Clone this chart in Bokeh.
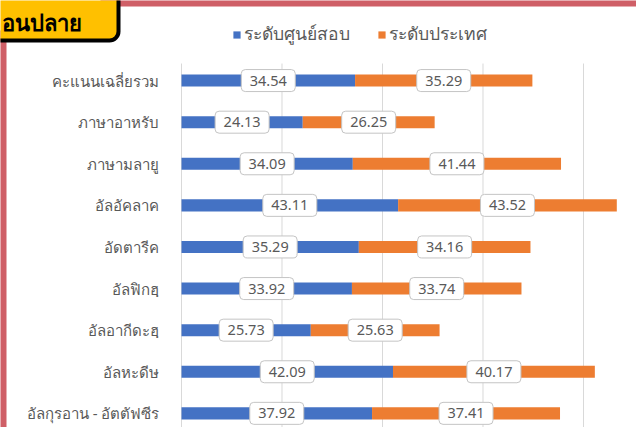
from bokeh.plotting import figure
from bokeh.models import (ColumnDataSource, Range1d, FixedTicker, Legend, LegendItem,
                          Label, BoxAnnotation, Rect)
from bokeh.core.properties import value
from bokeh.embed import file_html
from bokeh.resources import INLINE

categories = ["คะแนนเฉลี่ยรวม", "ภาษาอาหรับ", "ภาษามลายู", "อัลอัคลาค", "อัดตารีค",
              "อัลฟิกฮฺ", "อัลอากีดะฮฺ", "อัลหะดีษ", "อัลกุรอาน - อัตตัฟซีร"]
center_scores = [34.54, 24.13, 34.09, 43.11, 35.29, 33.92, 25.73, 42.09, 37.92]
nation_scores = [35.29, 26.25, 41.44, 43.52, 34.16, 33.74, 25.63, 40.17, 37.41]
series_names = ["ระดับศูนย์สอบ", "ระดับประเทศ"]
x_ticks = [0, 20, 40, 60, 80]
corner_text = "อนปลาย"

BLUE = "#4472C4"
ORANGE = "#ED7D31"
GRAY = "#595959"
RED = "#CF5F67"
FONT = "Noto Sans"

W, H = 636, 427
# visible data window (frame covers the whole canvas)
X0, X1 = -36.02, 90.55
Y_TOP, Y_BOT = -1.925, 8.34
PPX = W / (X1 - X0)
PPY = H / (Y_BOT - Y_TOP)


def dx(px):
    return X0 + px / PPX


def dy(py):
    return Y_TOP + py / PPY


idx = list(range(len(categories)))
label_x = []
label_y = []
label_txt = []
for i in idx:
    c = center_scores[i]
    n = nation_scores[i]
    label_x += [c / 2.0, c + n / 2.0]
    label_y += [i, i]
    label_txt += [f"{c:.2f}", f"{n:.2f}"]

src = ColumnDataSource(dict(idx=idx, center=center_scores, nation=nation_scores))
lsrc = ColumnDataSource(dict(x=label_x, y=label_y, t=label_txt))

p = figure(width=W, height=H, output_backend="svg", toolbar_location=None,
           x_range=Range1d(X0, X1), y_range=Range1d(Y_BOT, Y_TOP),
           x_axis_location=None, min_border_left=0, min_border_right=0,
           min_border_top=0, min_border_bottom=0, outline_line_color=None,
           background_fill_color="white", border_fill_color="white")
p.xgrid.visible = False
p.ygrid.visible = False

# vertical grid lines (start just above first category row)
grid_top = -0.41
p.segment(x0=x_ticks, x1=x_ticks, y0=[grid_top] * len(x_ticks), y1=[Y_BOT + 1] * len(x_ticks),
          line_color="#d9d9d9", line_width=1)

rs = p.hbar_stack(["center", "nation"], y="idx", height=0.29, color=[BLUE, ORANGE],
                  source=src, line_color=None)

rect_kw = {}
if "border_radius" in Rect.properties():
    rect_kw["border_radius"] = 4
p.rect(x="x", y="y", width=54, height=22, width_units="screen", height_units="screen",
       source=lsrc, fill_color="white", line_color="#c4c4c4", line_width=1, **rect_kw)
p.text(x="x", y="y", text="t", source=lsrc, text_align="center", text_baseline="middle",
       text_font=value(FONT), text_font_size="14.5px", text_color=GRAY)

ax = p.yaxis[0]
ax.fixed_location = 0
ax.ticker = FixedTicker(ticks=idx)
ax.major_label_overrides = {i: c for i, c in zip(idx, categories)}
ax.axis_line_color = None
ax.major_tick_line_color = None
ax.minor_tick_line_color = None
ax.major_label_standoff = 16
ax.major_label_text_font = FONT
ax.major_label_text_font_size = "15px"
ax.major_label_text_color = GRAY

legend = Legend(items=[LegendItem(label=series_names[0], renderers=[rs[0]]),
                       LegendItem(label=series_names[1], renderers=[rs[1]])],
                orientation="horizontal", location=(232, 379), padding=0, margin=0,
                spacing=27, glyph_width=9, glyph_height=9, label_standoff=3,
                label_text_font=FONT, label_text_font_size="17.5px", label_text_color=GRAY,
                border_line_color=None, background_fill_alpha=0)
p.add_layout(legend, "center")

# page decorations: red frame strips and yellow tag
p.add_layout(BoxAnnotation(left=dx(-20), right=dx(6), top=dy(30), bottom=dy(H + 20),
                           fill_color=RED, fill_alpha=1, line_color=None))
p.add_layout(BoxAnnotation(left=dx(100), right=dx(W + 20), top=dy(-20), bottom=dy(6),
                           fill_color=RED, fill_alpha=1, line_color=None))
box_kw = {}
if "border_radius" in BoxAnnotation.properties():
    box_kw["border_radius"] = 9
p.add_layout(BoxAnnotation(left=dx(-20), right=dx(118), top=dy(-20), bottom=dy(40),
                           fill_color="#FFC000", fill_alpha=1, line_color="black",
                           line_width=4, line_alpha=1, **box_kw))
p.add_layout(Label(x=dx(1), y=dy(21), text=corner_text, text_align="left",
                   text_baseline="middle", text_font=FONT, text_font_size="22px",
                   text_font_style="bold", text_color="black"))

open("out.html", "w").write(file_html(p, INLINE))
